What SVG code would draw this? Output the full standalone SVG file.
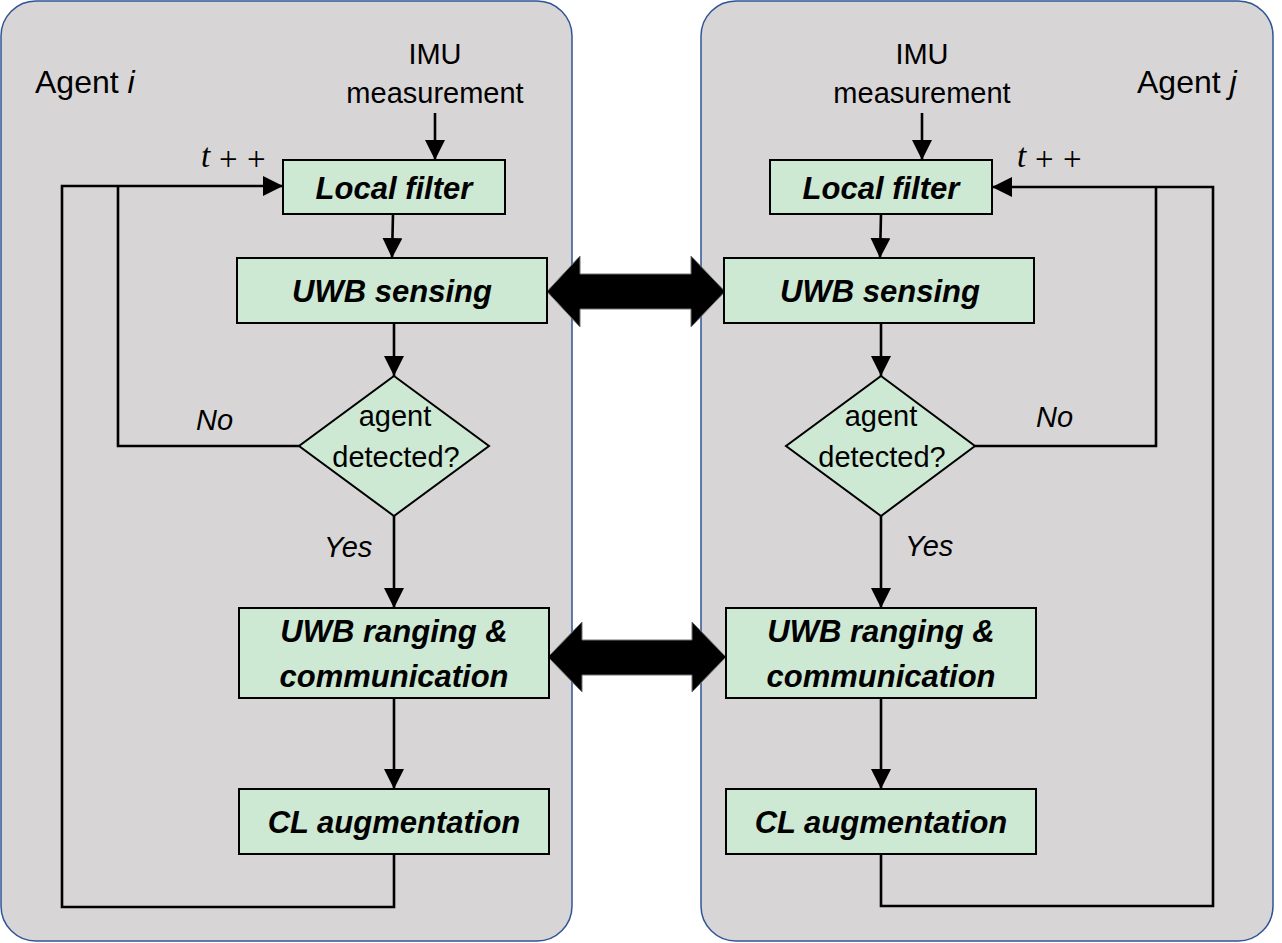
<svg xmlns="http://www.w3.org/2000/svg" width="1282" height="943" viewBox="0 0 1282 943">
<style>
.panel{fill:#d8d5d7;stroke:#2f5597;stroke-width:1.5}
.box{fill:#cde8d3;stroke:#000;stroke-width:2}
.lbl{font-family:"Liberation Sans",Arial,sans-serif;font-weight:bold;font-style:italic;font-size:31px;fill:#000;text-anchor:middle}
.txt{font-family:"Liberation Sans",Arial,sans-serif;font-size:29px;fill:#000}
.mid{text-anchor:middle}
.it{font-style:italic}
.math{font-family:"Liberation Serif","Times New Roman",serif;font-size:33px;fill:#000}
.ln{fill:none;stroke:#000;stroke-width:2.6}
.big{fill:#000;stroke:#707070;stroke-width:1}
</style>
<defs>
<marker id="ah" markerUnits="userSpaceOnUse" markerWidth="20" markerHeight="20" refX="20" refY="10" orient="auto">
<path d="M0,0 L20,10 L0,20 z" fill="#000"/>
</marker>
</defs>

<g id="panel-i"><rect class="panel" x="1" y="1" width="571" height="940" rx="35"/></g>
<g id="panel-j"><rect class="panel" x="701" y="1" width="572" height="940" rx="35"/></g>

<g id="labels">
<text class="txt" x="35" y="93" style="font-size:32px">Agent <tspan class="it">i</tspan></text>
<text class="txt" x="1137" y="93" style="font-size:32px">Agent <tspan class="it">j</tspan></text>
<text class="txt mid" x="435" y="64">IMU</text>
<text class="txt mid" x="435" y="103">measurement</text>
<text class="txt mid" x="922" y="64">IMU</text>
<text class="txt mid" x="922" y="103">measurement</text>
<text class="math" x="201" y="167"><tspan font-style="italic">t</tspan></text>
<text class="math" x="219" y="170">+</text>
<text class="math" x="247" y="170">+</text>
<text class="math" x="1017" y="167"><tspan font-style="italic">t</tspan></text>
<text class="math" x="1035" y="170">+</text>
<text class="math" x="1063" y="170">+</text>
<text class="txt it" x="196" y="430">No</text>
<text class="txt it" x="1036" y="427">No</text>
<text class="txt it" x="324" y="557">Yes</text>
<text class="txt it" x="905" y="556">Yes</text>
</g>

<g id="connectors">
<line class="ln" x1="435" y1="113" x2="435" y2="160" marker-end="url(#ah)"/>
<line class="ln" x1="393" y1="214" x2="392" y2="258" marker-end="url(#ah)"/>
<line class="ln" x1="394" y1="323" x2="394" y2="376" marker-end="url(#ah)"/>
<line class="ln" x1="394" y1="516" x2="394" y2="608" marker-end="url(#ah)"/>
<line class="ln" x1="394" y1="698" x2="394" y2="789" marker-end="url(#ah)"/>
<polyline class="ln" points="394,854 394,907 62,907 62,186 283,186" marker-end="url(#ah)"/>
<polyline class="ln" points="299,446 118,446 118,186"/>

<line class="ln" x1="922" y1="113" x2="922" y2="160" marker-end="url(#ah)"/>
<line class="ln" x1="881" y1="214" x2="880" y2="258" marker-end="url(#ah)"/>
<line class="ln" x1="881" y1="323" x2="881" y2="376" marker-end="url(#ah)"/>
<line class="ln" x1="881" y1="516" x2="881" y2="608" marker-end="url(#ah)"/>
<line class="ln" x1="881" y1="698" x2="881" y2="789" marker-end="url(#ah)"/>
<polyline class="ln" points="881,854 881,906 1213,906 1213,187 992,187" marker-end="url(#ah)"/>
<polyline class="ln" points="975,446 1156,446 1156,187"/>

<polygon class="big" points="547,291.5 580,256 580,274 691,274 691,256 725,291.5 691,327 691,309 580,309 580,327"/>
<polygon class="big" points="548,657 582,622 582,640 692,640 692,622 726,657 692,692 692,675 582,675 582,692"/>
</g>

<g id="local-filter-i"><rect class="box" x="283" y="160" width="222" height="54"/><text class="lbl" x="394" y="199">Local filter</text></g>
<g id="uwb-sensing-i"><rect class="box" x="237" y="258" width="310" height="65"/><text class="lbl" x="392" y="302">UWB sensing</text></g>
<g id="detect-i"><polygon class="box" points="394,376 489,446 394,516 299,446"/><text class="txt mid" x="395" y="426">agent</text><text class="txt mid" x="396" y="467">detected?</text></g>
<g id="ranging-i"><rect class="box" x="239" y="608" width="310" height="90"/><text class="lbl" x="394" y="642">UWB ranging &amp;</text><text class="lbl" x="394" y="687">communication</text></g>
<g id="cl-i"><rect class="box" x="239" y="789" width="310" height="65"/><text class="lbl" x="394" y="833">CL augmentation</text></g>

<g id="local-filter-j"><rect class="box" x="770" y="160" width="222" height="54"/><text class="lbl" x="881" y="199">Local filter</text></g>
<g id="uwb-sensing-j"><rect class="box" x="724" y="258" width="310" height="65"/><text class="lbl" x="880" y="302">UWB sensing</text></g>
<g id="detect-j"><polygon class="box" points="881,376 975,446 881,516 786,446"/><text class="txt mid" x="881" y="426">agent</text><text class="txt mid" x="882" y="467">detected?</text></g>
<g id="ranging-j"><rect class="box" x="726" y="608" width="310" height="90"/><text class="lbl" x="881" y="642">UWB ranging &amp;</text><text class="lbl" x="881" y="687">communication</text></g>
<g id="cl-j"><rect class="box" x="726" y="789" width="310" height="65"/><text class="lbl" x="881" y="833">CL augmentation</text></g>
</svg>
